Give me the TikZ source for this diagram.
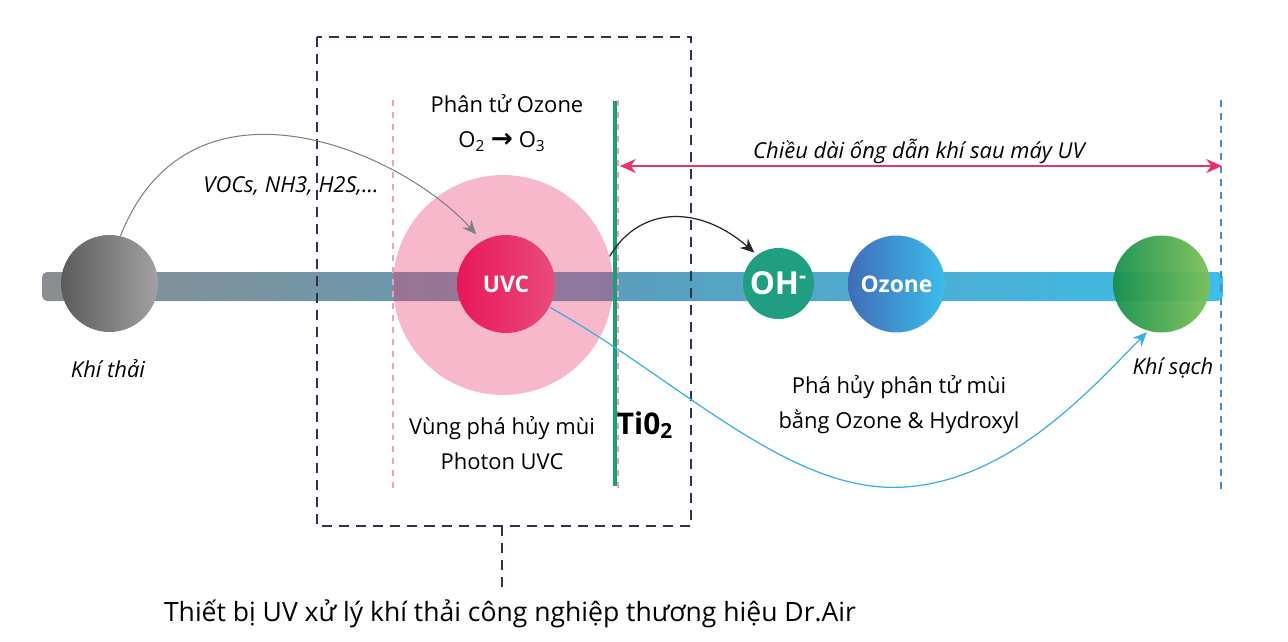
\documentclass[tikz,border=0pt]{standalone}
\usepackage{fontspec}
\setmainfont{Open Sans}
\newfontfamily\arrowfont{DejaVu Sans}
\usepackage{xcolor}
\usetikzlibrary{arrows.meta, positioning, calc}

\definecolor{pipeL}{HTML}{8A8E92}
\definecolor{pipeM}{HTML}{5A9FBD}
\definecolor{pipeR}{HTML}{3DBDE9}
\definecolor{uvpink}{HTML}{E8336A}
\definecolor{zoneline}{HTML}{F0A0BC}
\definecolor{tiogreen}{HTML}{1A9E78}
\definecolor{boxnavy}{HTML}{2E3150}
\definecolor{flowblue}{HTML}{3AAEE0}
\definecolor{edgeblue}{HTML}{4A8CC8}
\definecolor{ohteal}{HTML}{1F9E82}

\tikzset{
  ball/.style={circle, inner sep=0pt, minimum size=#1},
  balltext/.style={text=white, font=\bfseries\fontsize{13}{14}\selectfont},
  lbl/.style={font=\fontsize{12.5}{19.9}\selectfont, align=center},
  itlbl/.style={font=\itshape\fontsize{12.5}{15}\selectfont},
  boxdash/.style={boxnavy, line width=0.85pt, dash pattern=on 5.7pt off 4pt},
  zonedash/.style={zoneline, line width=1.1pt, dash pattern=on 3.4pt off 3.4pt},
}

\begin{document}
\begin{tikzpicture}[x=0.02cm, y=-0.02cm]
    \useasboundingbox (0,0) rectangle (1288,642);

    % ong dan khi
    \shade[left color=pipeL, right color=pipeR, middle color=pipeM, rounded corners=3pt]
        (42,272) rectangle (1223,301);

    % vung pha huy + cac qua cau
    \node[ball=4.4cm, fill=uvpink, fill opacity=.35] (vung) at (503,285) {};
    \node[ball=1.94cm, left color={rgb,255:red,91;green,91;blue,93}, right color={rgb,255:red,163;green,161;blue,161}] (thai) at (109.5,283.5) {};
    \node[ball=1.96cm, left color={rgb,255:red,232;green,23;blue,90}, right color={rgb,255:red,234;green,74;blue,125}, balltext] (uvc) at (506,284) {UVC};
    \node[ball=1.42cm, fill=ohteal, balltext, font=\bfseries\fontsize{18}{20}\selectfont] (oh) at (778.5,283.5) {OH\textsuperscript{-}};
    \node[ball=1.94cm, left color={rgb,255:red,63;green,109;blue,184}, right color={rgb,255:red,60;green,189;blue,236}, balltext] (ozone) at (896.5,284) {Ozone};
    \node[ball=1.94cm, left color={rgb,255:red,23;green,144;blue,76}, right color={rgb,255:red,125;green,194;blue,87}, opacity=.95] (sach) at (1161.5,284) {};

    % khung thiet bi
    \draw[boxdash] (317,37) rectangle (691,526);
    \coordinate (boxS) at (502,526);

    % vach ngan
    \draw[zonedash] (393,100) -- (393,488);
    \draw[zonedash] (618,100) -- (618,488);
    \draw[tiogreen, line width=2.3pt] (615,101) -- (615,486);
    \draw[edgeblue, line width=0.6pt, dash pattern=on 4pt off 3.5pt] (1221,100) -- (1221,492);

    % chu thich
    \node[lbl] (ozlbl) at (507,104) {Phân tử Ozone};
    \node[lbl] (o2o3) at (502,142) {O\textsubscript{2} {\arrowfont\bfseries\fontsize{15}{16}\selectfont →} O\textsubscript{3}};
    \node[itlbl] (voc) at (291,186) {VOCs, NH3, H2S,...};
    \node[itlbl] (thailbl) at (108,369) {Khí thải};
    \node[itlbl] (sachlbl) at (1173,368) {Khí sạch};
    \node[lbl] (vunglbl) at (502,443) {Vùng phá hủy mùi\\Photon UVC};
    \node[font=\bfseries\fontsize{17}{20}\selectfont] (tio) at (645,425) {Ti0\textsubscript{2}};
    \node[lbl] (phahuy) at (899,405) {Phá hủy phân tử mùi\\bằng Ozone \& Hydroxyl};
    \node[itlbl] (lenlbl) at (919,151) {Chiều dài ống dẫn khí sau máy UV};
    \node[font=\fontsize{15.1}{17}\selectfont] (title) at (510,614) {Thiết bị UV xử lý khí thải công nghiệp thương hiệu Dr.Air};

    \draw[boxdash] (boxS) -- (boxS |- title.north);

    % mui ten
    \coordinate (lenL) at (620,166);
    \coordinate (lenR) at (1222,166);
    \draw[uvpink, line width=0.85pt, {Stealth[length=9pt, width=8pt]}-{Stealth[length=9pt, width=8pt]}] (lenL) -- (lenR);
    \draw[gray, line width=0.6pt, -{Stealth[length=8pt, width=7pt]}, shorten >=5pt]
        (thai.77) .. controls (190,60) and (400,150) .. (uvc.119);
    \draw[black!85, line width=0.7pt, -{Stealth[length=8pt, width=7pt]}, shorten >=2pt]
        (vung.15) .. controls (640,205) and (700,205) .. (oh.127);
    \draw[flowblue, line width=0.7pt, -{Stealth[length=8pt, width=7pt]}, shorten >=1pt]
        (uvc.-28) .. controls (680,380) and (790,495) .. (905,487)
        .. controls (1010,480) and (1090,390) .. (sach.254);
\end{tikzpicture}
\end{document}
